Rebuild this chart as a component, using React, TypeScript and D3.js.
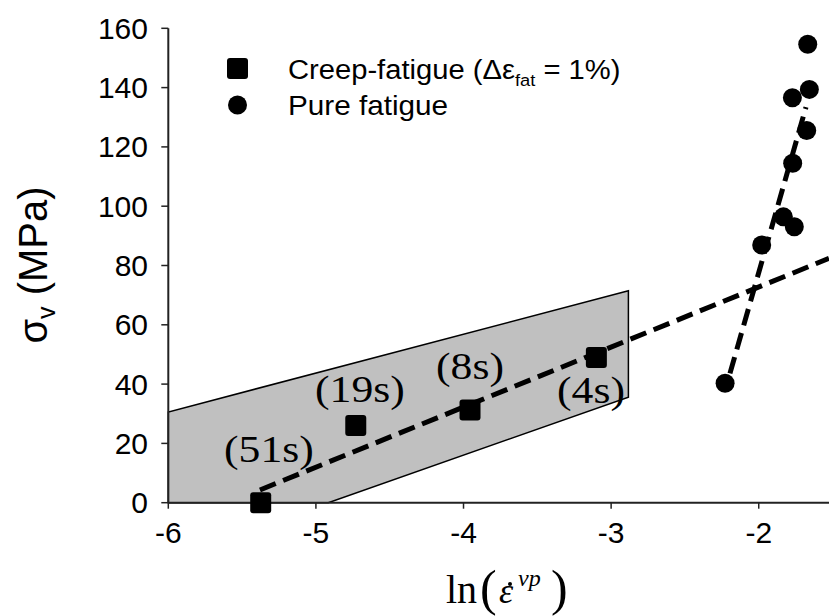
import React from "react";
import * as d3 from "d3";

const W = 829;
const H = 616;

const xTicks = [-6, -5, -4, -3, -2];
const yTicks = [0, 20, 40, 60, 80, 100, 120, 140, 160];

// Creep-fatigue points [ln(strain rate), stress]
const creepX = [-5.374, -4.73, -3.956, -3.1];
const creepY = [0, 26.0, 31.3, 49.0];
const creepLabels = ["(51s)", "(19s)", "(8s)", "(4s)"];

// Pure fatigue points
const fatX = [-1.668, -1.657, -1.772, -1.675, -1.77, -1.833, -1.759, -1.98, -2.228];
const fatY = [154.6, 139.4, 136.6, 125.5, 114.5, 96.4, 93.1, 86.9, 40.3];

// Trend lines
const creepLineX = [-5.379, -1.524];
const creepLineY = [4.3, 82.4];
const fatLineX = [-2.195, -1.68];
const fatLineY = [43.6, 133.4];

// Shaded band polygon
const bandX = [-6, -6, -2.883, -2.883, -4.916];
const bandY = [0, 30.6, 71.5, 35.6, 0];

const sans = "'Liberation Sans', Arial, sans-serif";
const serif = "'Liberation Serif', 'Times New Roman', serif";

export default function App() {
  const x = d3.scaleLinear().domain([-6, -1.524]).range([168.3, 829]);
  const y = d3.scaleLinear().domain([0, 160]).range([502.7, 28.3]);
  const line = d3
    .line<[number, number]>()
    .x((d) => x(d[0]))
    .y((d) => y(d[1]));

  const band = line(bandX.map((v, i) => [v, bandY[i]] as [number, number])) + "Z";
  const creepLine = line(creepLineX.map((v, i) => [v, creepLineY[i]] as [number, number]));
  const fatLine = line(fatLineX.map((v, i) => [v, fatLineY[i]] as [number, number]));

  const labelPos = [
    [224, 462],
    [315, 402],
    [436, 379],
    [557, 403],
  ];

  return (
    <svg
      width={W}
      height={H}
      style={{ position: "absolute", left: 0, top: 0, background: "#fff" }}
    >
      <path d={band} fill="#c0c0c0" stroke="#000" strokeWidth={1.5} />

      {/* axes */}
      <line x1={x(-6)} x2={W} y1={y(0)} y2={y(0)} stroke="#222" strokeWidth={2} />
      <line x1={x(-6)} x2={x(-6)} y1={y(0)} y2={y(160)} stroke="#222" strokeWidth={2} />
      {yTicks.map((t) => (
        <g key={"y" + t}>
          <line x1={x(-6) - 7} x2={x(-6)} y1={y(t)} y2={y(t)} stroke="#222" strokeWidth={1.5} />
          <text
            x={148}
            y={y(t) + 10.5}
            textAnchor="end"
            fontFamily={sans}
            fontSize={30}
            fill="#000"
          >
            {t}
          </text>
        </g>
      ))}
      {xTicks.map((t) => (
        <g key={"x" + t}>
          <line x1={x(t)} x2={x(t)} y1={y(0)} y2={y(0) + 6} stroke="#222" strokeWidth={1.5} />
          <text
            x={x(t)}
            y={543}
            textAnchor="middle"
            fontFamily={sans}
            fontSize={30}
            fill="#000"
          >
            {"-" + Math.abs(t)}
          </text>
        </g>
      ))}

      {/* trend lines */}
      <path d={creepLine!} fill="none" stroke="#000" strokeWidth={5} strokeDasharray="17 8" />
      <path d={fatLine!} fill="none" stroke="#000" strokeWidth={5} strokeDasharray="17 8" />

      {/* creep points */}
      {creepX.map((v, i) => (
        <rect
          key={"c" + i}
          x={x(v) - 10.5}
          y={y(creepY[i]) - 10.5}
          width={21}
          height={21}
          rx={3}
          fill="#000"
        />
      ))}
      {fatX.map((v, i) => (
        <circle key={"f" + i} cx={x(v)} cy={y(fatY[i])} r={9.5} fill="#000" />
      ))}

      {/* labels */}
      {creepLabels.map((s, i) => (
        <g key={"l" + i} transform={`translate(${labelPos[i][0]},${labelPos[i][1]}) scale(1.15,1)`}>
          <text x={0} y={0} fontFamily={serif} fontSize={38} fill="#000">
            {s}
          </text>
        </g>
      ))}

      {/* legend */}
      <rect x={227} y={58} width={21} height={21} rx={3} fill="#000" />
      <circle cx={237.5} cy={105} r={9.5} fill="#000" />
      <g transform="translate(288,79) scale(1.08,1)">
        <text fontFamily={sans} fontSize={27} fill="#000">
          Creep-fatigue (Δε
          <tspan fontSize={17} dy={7}>fat</tspan>
          <tspan fontSize={27} dy={-7}> = 1%)</tspan>
        </text>
      </g>
      <g transform="translate(288,115) scale(1.1,1)">
        <text fontFamily={sans} fontSize={27} fill="#000">
          Pure fatigue
        </text>
      </g>

      {/* y title */}
      <g transform="translate(47,265) rotate(-90)">
        <text textAnchor="middle" fontFamily={sans} fontSize={40} fill="#000">
          σ<tspan fontSize={25} dy={8}>v</tspan>
          <tspan fontSize={40} dy={-8}> (MPa)</tspan>
        </text>
      </g>

      {/* x title */}
      <text x={446} y={603} fontFamily={serif} fontSize={40} fill="#000">
        ln
      </text>
      <text x={480} y={605} fontFamily={serif} fontSize={50} fill="#000">
        (
      </text>
      <text x={499} y={603} fontFamily={serif} fontSize={36} fontStyle="italic" fill="#000">
        ε
      </text>
      <circle cx={510} cy={584} r={2} fill="#000" />
      <text x={518} y={586} fontFamily={serif} fontSize={24} fontStyle="italic" fill="#000">
        vp
      </text>
      <text x={551} y={605} fontFamily={serif} fontSize={50} fill="#000">
        )
      </text>
    </svg>
  );
}
